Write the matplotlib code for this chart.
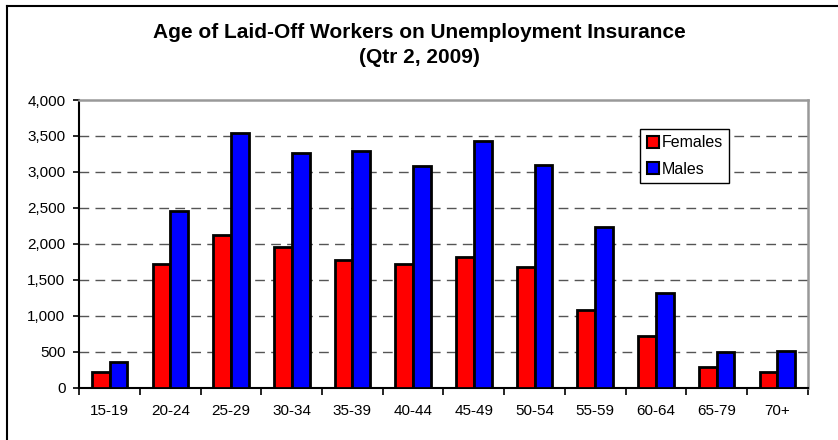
import numpy as np
import matplotlib
matplotlib.use("Agg")
import matplotlib.pyplot as plt
from matplotlib.lines import Line2D

plt.rcParams['font.family'] = ['Liberation Sans', 'DejaVu Sans']

# Data
age_groups = ["15-19", "20-24", "25-29", "30-34", "35-39", "40-44",
              "45-49", "50-54", "55-59", "60-64", "65-79", "70+"]
females = [222, 1724, 2119, 1957, 1772, 1724, 1818, 1675, 1085, 719, 284, 219]
males = [353, 2453, 3542, 3264, 3288, 3079, 3427, 3093, 2239, 1321, 497, 506]

fig = plt.figure(figsize=(8.38, 4.40), dpi=100)
ax = fig.add_axes([0.0946, 0.1189, 0.8692, 0.6538])

x = np.arange(len(age_groups))
w = 0.293
ax.bar(x - w / 2, females, w, color="#FF0000", edgecolor="black", linewidth=2.0,
       label="Females", zorder=3)
ax.bar(x + w / 2, males, w, color="#0000FF", edgecolor="black", linewidth=2.0,
       label="Males", zorder=3)

ax.set_xlim(-0.5, len(age_groups) - 0.5)
ax.set_ylim(0, 4000)
ax.set_yticks(np.arange(0, 4001, 500))
ax.set_yticklabels(["{:,}".format(v) for v in range(0, 4001, 500)], fontsize=11)

# category labels centred, ticks on the boundaries
ax.set_xticks(x)
ax.set_xticklabels(age_groups, fontsize=11)
ax.tick_params(axis="x", which="major", length=0, pad=12)
ax.set_xticks(np.arange(-0.5, len(age_groups)), minor=True)
ax.tick_params(axis="x", which="minor", length=5, width=1.2, direction="out")
ax.tick_params(axis="y", length=4, width=1.2, direction="out", pad=6)

# dashed gridlines
for v in range(500, 4000, 500):
    ax.axhline(v, color="#555555", linewidth=1.0, linestyle=(0, (7, 4.5)), zorder=1)

ax.spines["left"].set_linewidth(1.5)
ax.spines["bottom"].set_linewidth(1.5)
ax.spines["top"].set_color("#999999")
ax.spines["right"].set_color("#999999")
ax.spines["top"].set_linewidth(1.8)
ax.spines["right"].set_linewidth(1.8)

leg = ax.legend(loc="upper left", bbox_to_anchor=(0.770, 0.899), borderaxespad=0,
                fontsize=11.5, fancybox=False, framealpha=1, edgecolor="black",
                handlelength=0.75, handleheight=0.75, handletextpad=0.2,
                labelspacing=0.7, borderpad=0.4)
leg.get_frame().set_linewidth(1.0)
for h in leg.legend_handles:
    h.set_linewidth(1.5)

fig.text(0.5, 0.925, "Age of Laid-Off Workers on Unemployment Insurance",
         ha="center", va="center", fontsize=15, fontweight="bold")
fig.text(0.5, 0.870, "(Qtr 2, 2009)",
         ha="center", va="center", fontsize=15, fontweight="bold")

# outer chart border (cropped at right and bottom)
fig.add_artist(Line2D([0.0078, 0.0078], [0, 0.9864], color="black", linewidth=1.5))
fig.add_artist(Line2D([0.0078, 1.0], [0.9864, 0.9864], color="black", linewidth=1.5))

fig.savefig("out.png", dpi=100)
